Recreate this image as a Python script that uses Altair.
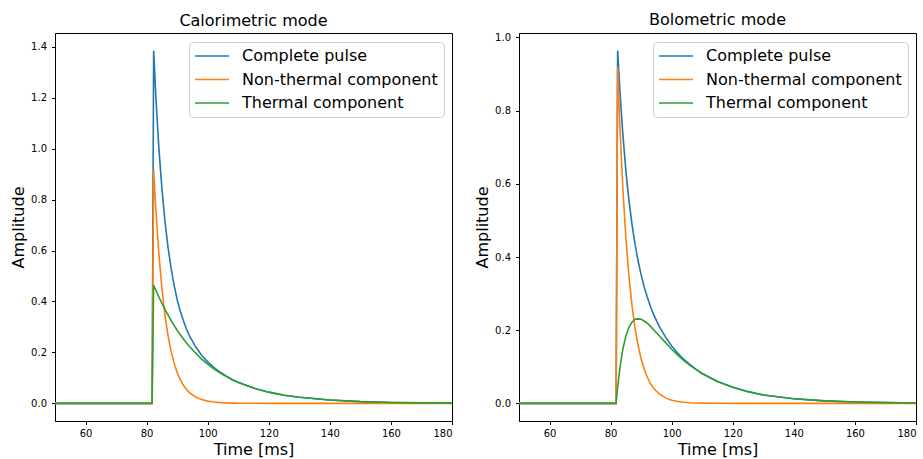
import altair as alt
import pandas as pd

# Time axis (ms)
time_ms = [50, 81.8, 82.3, 83, 84, 85, 86, 87, 88, 89, 90, 91, 92, 93, 94,
           96, 98, 100, 102, 104, 106, 108, 110, 115, 120, 125, 130,
           140, 150, 160, 170, 180]

# Calorimetric mode
cal_complete = [0, 0, 1.385, 1.210, 1.006, 0.845, 0.716, 0.614, 0.531, 0.464, 0.408,
                0.363, 0.326, 0.293, 0.266, 0.223, 0.189, 0.163, 0.141, 0.123, 0.108,
                0.094, 0.083, 0.060, 0.044, 0.032, 0.024, 0.013, 0.0068, 0.0036, 0.0019, 0.0010]
cal_nonthermal = [0, 0, 0.920, 0.765, 0.588, 0.452, 0.347, 0.267, 0.205, 0.158, 0.121,
                  0.093, 0.072, 0.055, 0.042, 0.025, 0.015, 0.0087, 0.0052, 0.0030, 0.0018,
                  0.0011, 0.0006, 0.0002, 0, 0, 0, 0, 0, 0, 0, 0]
cal_thermal = [0, 0, 0.465, 0.445, 0.418, 0.393, 0.369, 0.347, 0.326, 0.306, 0.287,
               0.270, 0.254, 0.238, 0.224, 0.198, 0.174, 0.154, 0.136, 0.120, 0.106,
               0.093, 0.082, 0.060, 0.044, 0.032, 0.024, 0.013, 0.0068, 0.0036, 0.0019, 0.0010]

# Bolometric mode
bol_complete = [0, 0, 0.964, 0.859, 0.736, 0.636, 0.555, 0.489, 0.435, 0.389, 0.351,
                0.318, 0.291, 0.266, 0.244, 0.209, 0.181, 0.157, 0.137, 0.120, 0.106,
                0.093, 0.082, 0.060, 0.044, 0.032, 0.023, 0.0125, 0.0067, 0.0036, 0.0019, 0.0010]
bol_nonthermal = [0, 0, 0.920, 0.765, 0.588, 0.452, 0.347, 0.267, 0.205, 0.158, 0.121,
                  0.093, 0.072, 0.055, 0.042, 0.025, 0.015, 0.0087, 0.0052, 0.0030, 0.0018,
                  0.0011, 0.0006, 0.0002, 0, 0, 0, 0, 0, 0, 0, 0]
bol_thermal = [0, 0, 0.044, 0.094, 0.148, 0.184, 0.208, 0.222, 0.230, 0.231, 0.230,
               0.225, 0.219, 0.211, 0.202, 0.184, 0.166, 0.148, 0.132, 0.117, 0.104,
               0.092, 0.081, 0.060, 0.044, 0.032, 0.023, 0.0125, 0.0067, 0.0036, 0.0019, 0.0010]

series_names = ["Complete pulse", "Non-thermal component", "Thermal component"]
series_colors = ["#1f77b4", "#ff7f0e", "#2ca02c"]

x_ticks = [60, 80, 100, 120, 140, 160, 180]
cal_y_ticks = [0.0, 0.2, 0.4, 0.6, 0.8, 1.0, 1.2, 1.4]
bol_y_ticks = [0.0, 0.2, 0.4, 0.6, 0.8, 1.0]
cal_y_domain = [-0.06925, 1.45425]
bol_y_domain = [-0.0482, 1.0122]


def long_frame(series_lists):
    rows = []
    for name, vals in zip(series_names, series_lists):
        for t, v in zip(time_ms, vals):
            rows.append({"t": t, "v": v, "series": name})
    return pd.DataFrame(rows)


def panel(df, title, y_domain, y_ticks):
    return alt.Chart(df).mark_line(strokeWidth=1.6, clip=True).encode(
        x=alt.X("t:Q",
                scale=alt.Scale(domain=[50, 180], nice=False, zero=False),
                axis=alt.Axis(values=x_ticks, format="d", title="Time [ms]")),
        y=alt.Y("v:Q",
                scale=alt.Scale(domain=y_domain, nice=False, zero=False),
                axis=alt.Axis(values=y_ticks, format=".1f", title="Amplitude")),
        color=alt.Color("series:N",
                        scale=alt.Scale(domain=series_names, range=series_colors),
                        sort=series_names,
                        legend=alt.Legend(title=None, orient="top-right")),
    ).properties(width=397, height=388, title=title)


left = panel(long_frame([cal_complete, cal_nonthermal, cal_thermal]),
             "Calorimetric mode", cal_y_domain, cal_y_ticks)
right = panel(long_frame([bol_complete, bol_nonthermal, bol_thermal]),
              "Bolometric mode", bol_y_domain, bol_y_ticks)

chart = alt.hconcat(left, right, spacing=67, bounds="flush").resolve_scale(
    color="independent"
).resolve_legend(
    color="independent"
).properties(
    padding={"left": 10, "top": 11, "right": 0, "bottom": 0},
).configure(
    font="DejaVu Sans",
    background="white",
).configure_view(
    stroke="black", strokeWidth=1,
).configure_axis(
    grid=False,
    domainColor="black", domainWidth=1,
    tickColor="black", tickWidth=1, tickSize=3.5,
    labelColor="black", labelFontSize=10, labelPadding=3.5,
    labelFont="DejaVu Sans",
    titleColor="black", titleFontSize=16, titleFontWeight="normal",
    titleFont="DejaVu Sans",
).configure_axisX(
    titlePadding=3,
).configure_axisY(
    titlePadding=4, labelPadding=5,
).configure_title(
    font="DejaVu Sans", fontSize=16, fontWeight="normal", color="black",
    anchor="middle", offset=4,
).configure_legend(
    symbolType="M-1.4,0H4.6", symbolSize=128, symbolStrokeWidth=1.6,
    labelFontSize=16, labelFont="DejaVu Sans", labelColor="black",
    labelLimit=400, labelOffset=31,
    padding=6, rowPadding=7.5, offset=8.5,
    fillColor="white", strokeColor="#cccccc", cornerRadius=4,
)

chart.save("out.html", embed_options={"renderer": "svg", "actions": False})
